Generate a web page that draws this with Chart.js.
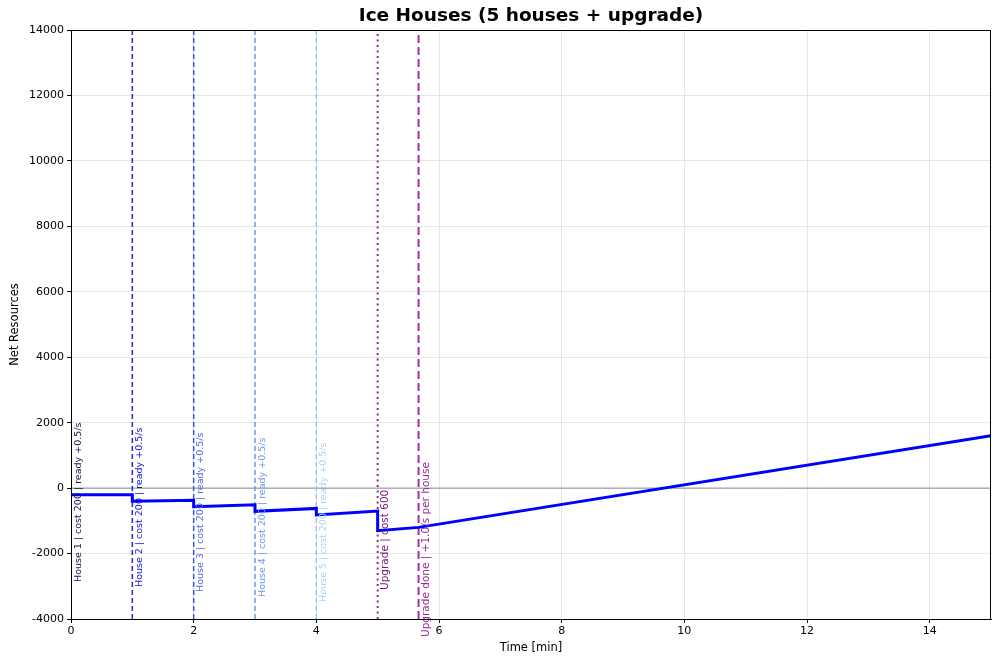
<!DOCTYPE html>
<html>
<head>
<meta charset="utf-8">
<title>Ice Houses</title>
<script src="https://cdn.jsdelivr.net/npm/chart.js@4"></script>
<style>
  html, body { margin: 0; padding: 0; background: #fff; }
  canvas { display: block; }
</style>
</head>
<body>
<canvas id="iceChart" width="1000" height="663"></canvas>
<script>
// Net resources over time
var netTimes  = [0, 1, 1, 2, 2, 3, 3, 4, 4, 5, 5, 5.667, 15];
var netValues = [-200, -200, -400, -370, -570, -510, -710, -620, -820, -700, -1300, -1200, 1600];

// Event markers
var eventTimes  = [0, 1, 2, 3, 4, 5, 5.667];
var eventLabels = [
    'House 1 | cost 200 | ready +0.5/s',
    'House 2 | cost 200 | ready +0.5/s',
    'House 3 | cost 200 | ready +0.5/s',
    'House 4 | cost 200 | ready +0.5/s',
    'House 5 | cost 200 | ready +0.5/s',
    'Upgrade | cost 600',
    'Upgrade done | +1.0/s per house'
];
var eventColors = ['#2a2a66', '#2c2cb4', '#3b50ee', '#6a96ec', '#9cc8ea', '#86308e', '#a233a2'];
var labelColors = ['#141450', '#1010ee', '#4f68e6', '#6d98ea', '#a9d6ea', '#7a1a80', '#9a2a9a'];
var eventDash   = [[2, 2], [5, 3], [5, 3], [5, 3], [5, 3], [2, 3.5], [8, 4]];
var eventWidths = [1.3, 1.5, 1.5, 1.5, 1.5, 2, 2];

// Axis ranges / ticks
var xMin = 0, xMax = 15, xStep = 2;
var yMin = -4000, yMax = 14000, yStep = 2000;

var FONT = "'DejaVu Sans', 'Liberation Sans', sans-serif";

function buildDatasets() {
    var sets = [];

    // horizontal zero line
    sets.push({
        data: [{ x: xMin, y: 0 }, { x: xMax, y: 0 }],
        borderColor: '#8c8c8c',
        borderWidth: 1,
        pointRadius: 0,
        showLine: true,
        order: 3
    });

    // vertical event lines
    eventTimes.forEach(function (t, i) {
        sets.push({
            data: [{ x: t, y: yMin }, { x: t, y: yMax }],
            borderColor: eventColors[i],
            borderWidth: eventWidths[i],
            borderDash: eventDash[i],
            pointRadius: 0,
            showLine: true,
            order: 2
        });
    });

    // main resource curve
    sets.push({
        data: netTimes.map(function (t, i) { return { x: t, y: netValues[i] }; }),
        borderColor: '#0000ff',
        borderWidth: 3,
        pointRadius: 0,
        showLine: true,
        tension: 0,
        order: 1
    });
    return sets;
}

// Draws title, frame and the rotated event labels
var decorations = {
    id: 'decorations',
    afterDatasetsDraw: function (chart) {
        var ctx = chart.ctx;
        var area = chart.chartArea;
        var xs = chart.scales.x;
        var ys = chart.scales.y;

        ctx.save();
        // event labels (houses small, upgrades a bit larger)
        ctx.textAlign = 'left';
        ctx.textBaseline = 'top';
        eventTimes.forEach(function (t, i) {
            var px = xs.getPixelForValue(t) + 2.5;
            var bottom;
            if (i < 5) bottom = ys.getPixelForValue(yMin) - 37 + 5 * i;
            else if (i === 5) bottom = ys.getPixelForValue(yMin) - 29;
            else bottom = ys.getPixelForValue(yMin) + 18;
            ctx.save();
            ctx.translate(px, bottom);
            ctx.rotate(-Math.PI / 2);
            ctx.font = (i < 5 ? '9.5px ' : '10.5px ') + FONT;
            ctx.fillStyle = labelColors[i];
            ctx.fillText(eventLabels[i], 0, 0);
            ctx.restore();
        });

        // frame
        ctx.strokeStyle = '#000';
        ctx.lineWidth = 1;
        ctx.strokeRect(area.left + 0.5, area.top + 0.5, area.right - area.left - 1, area.bottom - area.top);

        // title
        ctx.fillStyle = '#000';
        ctx.font = 'bold 18.5px ' + FONT;
        ctx.textAlign = 'center';
        ctx.textBaseline = 'middle';
        ctx.fillText('Ice Houses (5 houses + upgrade)', (area.left + area.right) / 2, 16);
        ctx.restore();
    }
};

function plainTick(value) {
    return String(value);
}

var canvas = document.getElementById('iceChart');
var myChart = new Chart(canvas.getContext('2d'), {
    type: 'scatter',
    data: { datasets: buildDatasets() },
    plugins: [decorations],
    options: {
        responsive: false,
        animation: false,
        layout: { padding: { top: 30, right: 9, bottom: 0, left: 0 } },
        plugins: {
            legend: { display: false },
            tooltip: { enabled: false },
            title: { display: false }
        },
        scales: {
            x: {
                type: 'linear',
                min: xMin,
                max: xMax,
                ticks: {
                    stepSize: xStep,
                    includeBounds: false,
                    color: '#000',
                    font: { family: FONT, size: 11 },
                    padding: 2,
                    maxRotation: 0,
                    callback: plainTick
                },
                grid: { color: '#e6e6e6', tickColor: '#000', tickLength: 4 },
                border: { display: true, color: '#000' },
                title: {
                    display: true,
                    text: 'Time [min]',
                    color: '#000',
                    font: { family: FONT, size: 11.5 },
                    padding: { top: 2, bottom: 8 }
                },
                afterFit: function (scale) { scale.height = 44; }
            },
            y: {
                type: 'linear',
                min: yMin,
                max: yMax,
                ticks: {
                    stepSize: yStep,
                    color: '#000',
                    font: { family: FONT, size: 11 },
                    padding: 3,
                    callback: plainTick
                },
                grid: { color: '#e6e6e6', tickColor: '#000', tickLength: 4 },
                border: { display: true, color: '#000' },
                title: {
                    display: true,
                    text: 'Net Resources',
                    color: '#000',
                    font: { family: FONT, size: 11.5 },
                    padding: { top: 8, bottom: 6 }
                },
                afterFit: function (scale) { scale.width = 71; }
            }
        }
    }
});
</script>
</body>
</html>
